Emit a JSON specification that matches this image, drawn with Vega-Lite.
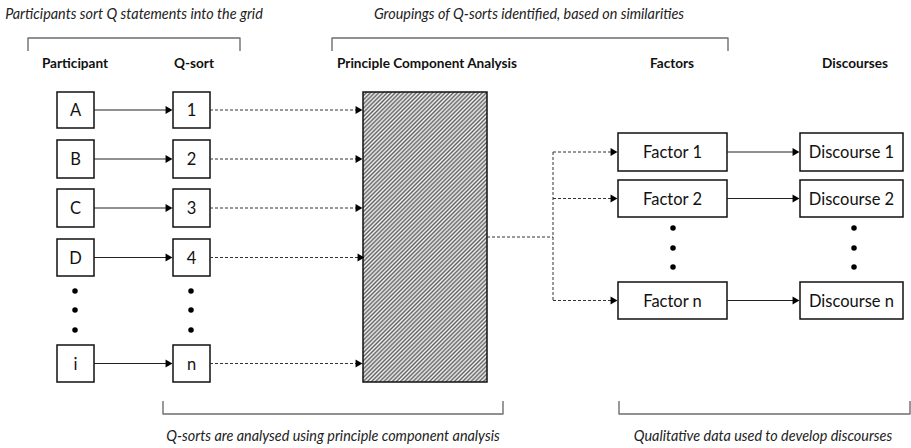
{
  "$schema": "https://vega.github.io/schema/vega-lite/v6.json",
  "width": 911,
  "height": 448,
  "padding": 0,
  "autosize": {"type": "fit", "contains": "padding"},
  "background": "white",
  "config": {"view": {"stroke": null}},
  "datasets": {
    "boxes": [
      {"label": "A", "x": 57, "x2": 94, "y": 92, "y2": 128},
      {"label": "B", "x": 57, "x2": 94, "y": 140, "y2": 178},
      {"label": "C", "x": 57, "x2": 94, "y": 189, "y2": 227},
      {"label": "D", "x": 57, "x2": 94, "y": 239, "y2": 276},
      {"label": "i", "x": 57, "x2": 94, "y": 345, "y2": 382},
      {"label": "1", "x": 173, "x2": 210, "y": 92, "y2": 128},
      {"label": "2", "x": 173, "x2": 210, "y": 140, "y2": 178},
      {"label": "3", "x": 173, "x2": 210, "y": 189, "y2": 227},
      {"label": "4", "x": 173, "x2": 210, "y": 239, "y2": 276},
      {"label": "n", "x": 173, "x2": 210, "y": 345, "y2": 382},
      {"label": "Factor 1", "x": 618, "x2": 727, "y": 133, "y2": 171},
      {"label": "Factor 2", "x": 618, "x2": 727, "y": 180, "y2": 217},
      {"label": "Factor n", "x": 618, "x2": 727, "y": 282, "y2": 319},
      {"label": "Discourse 1", "x": 800, "x2": 903, "y": 133, "y2": 171},
      {"label": "Discourse 2", "x": 800, "x2": 903, "y": 180, "y2": 217},
      {"label": "Discourse n", "x": 800, "x2": 903, "y": 282, "y2": 319}
    ],
    "pca": [{"x": 363, "x2": 487, "y": 92, "y2": 382}],
    "solid": [
      {"x": 94, "x2": 166, "y": 110},
      {"x": 94, "x2": 166, "y": 159},
      {"x": 94, "x2": 166, "y": 208},
      {"x": 94, "x2": 166, "y": 257.5},
      {"x": 94, "x2": 166, "y": 363.5},
      {"x": 727, "x2": 793, "y": 152},
      {"x": 727, "x2": 793, "y": 198.5},
      {"x": 727, "x2": 793, "y": 300.5}
    ],
    "dashed": [
      {"x": 210, "x2": 356, "y": 110, "y2": 110},
      {"x": 210, "x2": 356, "y": 159, "y2": 159},
      {"x": 210, "x2": 356, "y": 208, "y2": 208},
      {"x": 210, "x2": 358, "y": 257.5, "y2": 257.5},
      {"x": 210, "x2": 356, "y": 363.5, "y2": 363.5},
      {"x": 487, "x2": 553, "y": 237, "y2": 237},
      {"x": 553, "x2": 553, "y": 152, "y2": 300.5},
      {"x": 553, "x2": 611, "y": 152, "y2": 152},
      {"x": 553, "x2": 611, "y": 198.5, "y2": 198.5},
      {"x": 553, "x2": 611, "y": 300.5, "y2": 300.5}
    ],
    "heads": [
      {"x": 169, "y": 110}, {"x": 169, "y": 159}, {"x": 169, "y": 208},
      {"x": 169, "y": 257.5}, {"x": 169, "y": 363.5},
      {"x": 359, "y": 110}, {"x": 359, "y": 159}, {"x": 359, "y": 208},
      {"x": 361, "y": 257.5}, {"x": 359, "y": 363.5},
      {"x": 614, "y": 152}, {"x": 614, "y": 198.5}, {"x": 614, "y": 300.5},
      {"x": 796, "y": 152}, {"x": 796, "y": 198.5}, {"x": 796, "y": 300.5}
    ],
    "dots": [
      {"x": 75, "y": 291}, {"x": 75, "y": 310}, {"x": 75, "y": 330},
      {"x": 191, "y": 291}, {"x": 191, "y": 310}, {"x": 191, "y": 330},
      {"x": 673, "y": 228}, {"x": 673, "y": 248}, {"x": 673, "y": 267},
      {"x": 854, "y": 228}, {"x": 854, "y": 248}, {"x": 854, "y": 267}
    ],
    "brackets": [
      {"b": "t1", "o": 1, "x": 28, "y": 51}, {"b": "t1", "o": 2, "x": 28, "y": 38},
      {"b": "t1", "o": 3, "x": 240, "y": 38}, {"b": "t1", "o": 4, "x": 240, "y": 51},
      {"b": "t2", "o": 1, "x": 332, "y": 51}, {"b": "t2", "o": 2, "x": 332, "y": 38},
      {"b": "t2", "o": 3, "x": 728, "y": 38}, {"b": "t2", "o": 4, "x": 728, "y": 51},
      {"b": "b1", "o": 1, "x": 163, "y": 401}, {"b": "b1", "o": 2, "x": 163, "y": 414},
      {"b": "b1", "o": 3, "x": 503, "y": 414}, {"b": "b1", "o": 4, "x": 503, "y": 401},
      {"b": "b2", "o": 1, "x": 619, "y": 401}, {"b": "b2", "o": 2, "x": 619, "y": 414},
      {"b": "b2", "o": 3, "x": 910, "y": 414}, {"b": "b2", "o": 4, "x": 910, "y": 401}
    ],
    "headings": [
      {"label": "Participant", "x": 75, "y": 64},
      {"label": "Q-sort", "x": 194, "y": 64},
      {"label": "Principle Component Analysis", "x": 427, "y": 64},
      {"label": "Factors", "x": 672, "y": 64},
      {"label": "Discourses", "x": 855, "y": 64}
    ],
    "captions": [
      {"label": "Participants sort Q statements into the grid", "x": 134, "y": 15},
      {"label": "Groupings of Q-sorts identified, based on similarities", "x": 529, "y": 15},
      {"label": "Q-sorts are analysed using principle component analysis", "x": 333, "y": 437},
      {"label": "Qualitative data used to develop discourses", "x": 763, "y": 437}
    ]
  },
  "layer": [
    {
      "data": {"name": "brackets"},
      "mark": {"type": "line", "stroke": "#6e6e6e", "strokeWidth": 1.4, "strokeJoin": "round"},
      "encoding": {
        "x": {"field": "x", "type": "quantitative", "scale": {"domain": [0, 911], "nice": false, "zero": false}, "axis": null},
        "y": {"field": "y", "type": "quantitative", "scale": {"domain": [0, 448], "nice": false, "zero": false, "reverse": true}, "axis": null},
        "detail": {"field": "b"},
        "order": {"field": "o"}
      }
    },
    {
      "data": {"name": "pca"},
      "mark": {
        "type": "rect",
        "stroke": "#111",
        "strokeWidth": 1.5,
        "strokeOpacity": 1,
        "fillOpacity": 0.82,
        "fill": {
          "gradient": "linear",
          "x1": 0, "y1": 0, "x2": 0.516, "y2": 1.207,
          "stops": [
            {"offset": 0.000, "color": "#3c3c3c"}, {"offset": 0.005, "color": "#f4f4f4"},
            {"offset": 0.010, "color": "#3c3c3c"}, {"offset": 0.015, "color": "#f4f4f4"},
            {"offset": 0.020, "color": "#3c3c3c"}, {"offset": 0.025, "color": "#f4f4f4"},
            {"offset": 0.030, "color": "#3c3c3c"}, {"offset": 0.035, "color": "#f4f4f4"},
            {"offset": 0.040, "color": "#3c3c3c"}, {"offset": 0.045, "color": "#f4f4f4"},
            {"offset": 0.050, "color": "#3c3c3c"}, {"offset": 0.055, "color": "#f4f4f4"},
            {"offset": 0.060, "color": "#3c3c3c"}, {"offset": 0.065, "color": "#f4f4f4"},
            {"offset": 0.070, "color": "#3c3c3c"}, {"offset": 0.075, "color": "#f4f4f4"},
            {"offset": 0.080, "color": "#3c3c3c"}, {"offset": 0.085, "color": "#f4f4f4"},
            {"offset": 0.090, "color": "#3c3c3c"}, {"offset": 0.095, "color": "#f4f4f4"},
            {"offset": 0.100, "color": "#3c3c3c"}, {"offset": 0.105, "color": "#f4f4f4"},
            {"offset": 0.110, "color": "#3c3c3c"}, {"offset": 0.115, "color": "#f4f4f4"},
            {"offset": 0.120, "color": "#3c3c3c"}, {"offset": 0.125, "color": "#f4f4f4"},
            {"offset": 0.130, "color": "#3c3c3c"}, {"offset": 0.135, "color": "#f4f4f4"},
            {"offset": 0.140, "color": "#3c3c3c"}, {"offset": 0.145, "color": "#f4f4f4"},
            {"offset": 0.150, "color": "#3c3c3c"}, {"offset": 0.155, "color": "#f4f4f4"},
            {"offset": 0.160, "color": "#3c3c3c"}, {"offset": 0.165, "color": "#f4f4f4"},
            {"offset": 0.170, "color": "#3c3c3c"}, {"offset": 0.175, "color": "#f4f4f4"},
            {"offset": 0.180, "color": "#3c3c3c"}, {"offset": 0.185, "color": "#f4f4f4"},
            {"offset": 0.190, "color": "#3c3c3c"}, {"offset": 0.195, "color": "#f4f4f4"},
            {"offset": 0.200, "color": "#3c3c3c"}, {"offset": 0.205, "color": "#f4f4f4"},
            {"offset": 0.210, "color": "#3c3c3c"}, {"offset": 0.215, "color": "#f4f4f4"},
            {"offset": 0.220, "color": "#3c3c3c"}, {"offset": 0.225, "color": "#f4f4f4"},
            {"offset": 0.230, "color": "#3c3c3c"}, {"offset": 0.235, "color": "#f4f4f4"},
            {"offset": 0.240, "color": "#3c3c3c"}, {"offset": 0.245, "color": "#f4f4f4"},
            {"offset": 0.250, "color": "#3c3c3c"}, {"offset": 0.255, "color": "#f4f4f4"},
            {"offset": 0.260, "color": "#3c3c3c"}, {"offset": 0.265, "color": "#f4f4f4"},
            {"offset": 0.270, "color": "#3c3c3c"}, {"offset": 0.275, "color": "#f4f4f4"},
            {"offset": 0.280, "color": "#3c3c3c"}, {"offset": 0.285, "color": "#f4f4f4"},
            {"offset": 0.290, "color": "#3c3c3c"}, {"offset": 0.295, "color": "#f4f4f4"},
            {"offset": 0.300, "color": "#3c3c3c"}, {"offset": 0.305, "color": "#f4f4f4"},
            {"offset": 0.310, "color": "#3c3c3c"}, {"offset": 0.315, "color": "#f4f4f4"},
            {"offset": 0.320, "color": "#3c3c3c"}, {"offset": 0.325, "color": "#f4f4f4"},
            {"offset": 0.330, "color": "#3c3c3c"}, {"offset": 0.335, "color": "#f4f4f4"},
            {"offset": 0.340, "color": "#3c3c3c"}, {"offset": 0.345, "color": "#f4f4f4"},
            {"offset": 0.350, "color": "#3c3c3c"}, {"offset": 0.355, "color": "#f4f4f4"},
            {"offset": 0.360, "color": "#3c3c3c"}, {"offset": 0.365, "color": "#f4f4f4"},
            {"offset": 0.370, "color": "#3c3c3c"}, {"offset": 0.375, "color": "#f4f4f4"},
            {"offset": 0.380, "color": "#3c3c3c"}, {"offset": 0.385, "color": "#f4f4f4"},
            {"offset": 0.390, "color": "#3c3c3c"}, {"offset": 0.395, "color": "#f4f4f4"},
            {"offset": 0.400, "color": "#3c3c3c"}, {"offset": 0.405, "color": "#f4f4f4"},
            {"offset": 0.410, "color": "#3c3c3c"}, {"offset": 0.415, "color": "#f4f4f4"},
            {"offset": 0.420, "color": "#3c3c3c"}, {"offset": 0.425, "color": "#f4f4f4"},
            {"offset": 0.430, "color": "#3c3c3c"}, {"offset": 0.435, "color": "#f4f4f4"},
            {"offset": 0.440, "color": "#3c3c3c"}, {"offset": 0.445, "color": "#f4f4f4"},
            {"offset": 0.450, "color": "#3c3c3c"}, {"offset": 0.455, "color": "#f4f4f4"},
            {"offset": 0.460, "color": "#3c3c3c"}, {"offset": 0.465, "color": "#f4f4f4"},
            {"offset": 0.470, "color": "#3c3c3c"}, {"offset": 0.475, "color": "#f4f4f4"},
            {"offset": 0.480, "color": "#3c3c3c"}, {"offset": 0.485, "color": "#f4f4f4"},
            {"offset": 0.490, "color": "#3c3c3c"}, {"offset": 0.495, "color": "#f4f4f4"},
            {"offset": 0.500, "color": "#3c3c3c"}, {"offset": 0.505, "color": "#f4f4f4"},
            {"offset": 0.510, "color": "#3c3c3c"}, {"offset": 0.515, "color": "#f4f4f4"},
            {"offset": 0.520, "color": "#3c3c3c"}, {"offset": 0.525, "color": "#f4f4f4"},
            {"offset": 0.530, "color": "#3c3c3c"}, {"offset": 0.535, "color": "#f4f4f4"},
            {"offset": 0.540, "color": "#3c3c3c"}, {"offset": 0.545, "color": "#f4f4f4"},
            {"offset": 0.550, "color": "#3c3c3c"}, {"offset": 0.555, "color": "#f4f4f4"},
            {"offset": 0.560, "color": "#3c3c3c"}, {"offset": 0.565, "color": "#f4f4f4"},
            {"offset": 0.570, "color": "#3c3c3c"}, {"offset": 0.575, "color": "#f4f4f4"},
            {"offset": 0.580, "color": "#3c3c3c"}, {"offset": 0.585, "color": "#f4f4f4"},
            {"offset": 0.590, "color": "#3c3c3c"}, {"offset": 0.595, "color": "#f4f4f4"},
            {"offset": 0.600, "color": "#3c3c3c"}, {"offset": 0.605, "color": "#f4f4f4"},
            {"offset": 0.610, "color": "#3c3c3c"}, {"offset": 0.615, "color": "#f4f4f4"},
            {"offset": 0.620, "color": "#3c3c3c"}, {"offset": 0.625, "color": "#f4f4f4"},
            {"offset": 0.630, "color": "#3c3c3c"}, {"offset": 0.635, "color": "#f4f4f4"},
            {"offset": 0.640, "color": "#3c3c3c"}, {"offset": 0.645, "color": "#f4f4f4"},
            {"offset": 0.650, "color": "#3c3c3c"}, {"offset": 0.655, "color": "#f4f4f4"},
            {"offset": 0.660, "color": "#3c3c3c"}, {"offset": 0.665, "color": "#f4f4f4"},
            {"offset": 0.670, "color": "#3c3c3c"}, {"offset": 0.675, "color": "#f4f4f4"},
            {"offset": 0.680, "color": "#3c3c3c"}, {"offset": 0.685, "color": "#f4f4f4"},
            {"offset": 0.690, "color": "#3c3c3c"}, {"offset": 0.695, "color": "#f4f4f4"},
            {"offset": 0.700, "color": "#3c3c3c"}, {"offset": 0.705, "color": "#f4f4f4"},
            {"offset": 0.710, "color": "#3c3c3c"}, {"offset": 0.715, "color": "#f4f4f4"},
            {"offset": 0.720, "color": "#3c3c3c"}, {"offset": 0.725, "color": "#f4f4f4"},
            {"offset": 0.730, "color": "#3c3c3c"}, {"offset": 0.735, "color": "#f4f4f4"},
            {"offset": 0.740, "color": "#3c3c3c"}, {"offset": 0.745, "color": "#f4f4f4"},
            {"offset": 0.750, "color": "#3c3c3c"}, {"offset": 0.755, "color": "#f4f4f4"},
            {"offset": 0.760, "color": "#3c3c3c"}, {"offset": 0.765, "color": "#f4f4f4"},
            {"offset": 0.770, "color": "#3c3c3c"}, {"offset": 0.775, "color": "#f4f4f4"},
            {"offset": 0.780, "color": "#3c3c3c"}, {"offset": 0.785, "color": "#f4f4f4"},
            {"offset": 0.790, "color": "#3c3c3c"}, {"offset": 0.795, "color": "#f4f4f4"},
            {"offset": 0.800, "color": "#3c3c3c"}, {"offset": 0.805, "color": "#f4f4f4"},
            {"offset": 0.810, "color": "#3c3c3c"}, {"offset": 0.815, "color": "#f4f4f4"},
            {"offset": 0.820, "color": "#3c3c3c"}, {"offset": 0.825, "color": "#f4f4f4"},
            {"offset": 0.830, "color": "#3c3c3c"}, {"offset": 0.835, "color": "#f4f4f4"},
            {"offset": 0.840, "color": "#3c3c3c"}, {"offset": 0.845, "color": "#f4f4f4"},
            {"offset": 0.850, "color": "#3c3c3c"}, {"offset": 0.855, "color": "#f4f4f4"},
            {"offset": 0.860, "color": "#3c3c3c"}, {"offset": 0.865, "color": "#f4f4f4"},
            {"offset": 0.870, "color": "#3c3c3c"}, {"offset": 0.875, "color": "#f4f4f4"},
            {"offset": 0.880, "color": "#3c3c3c"}, {"offset": 0.885, "color": "#f4f4f4"},
            {"offset": 0.890, "color": "#3c3c3c"}, {"offset": 0.895, "color": "#f4f4f4"},
            {"offset": 0.900, "color": "#3c3c3c"}, {"offset": 0.905, "color": "#f4f4f4"},
            {"offset": 0.910, "color": "#3c3c3c"}, {"offset": 0.915, "color": "#f4f4f4"},
            {"offset": 0.920, "color": "#3c3c3c"}, {"offset": 0.925, "color": "#f4f4f4"},
            {"offset": 0.930, "color": "#3c3c3c"}, {"offset": 0.935, "color": "#f4f4f4"},
            {"offset": 0.940, "color": "#3c3c3c"}, {"offset": 0.945, "color": "#f4f4f4"},
            {"offset": 0.950, "color": "#3c3c3c"}, {"offset": 0.955, "color": "#f4f4f4"},
            {"offset": 0.960, "color": "#3c3c3c"}, {"offset": 0.965, "color": "#f4f4f4"},
            {"offset": 0.970, "color": "#3c3c3c"}, {"offset": 0.975, "color": "#f4f4f4"},
            {"offset": 0.980, "color": "#3c3c3c"}, {"offset": 0.985, "color": "#f4f4f4"},
            {"offset": 0.990, "color": "#3c3c3c"}, {"offset": 0.995, "color": "#f4f4f4"},
            {"offset": 1.000, "color": "#3c3c3c"}
          ]
        }
      },
      "encoding": {
        "x": {"field": "x", "type": "quantitative"},
        "x2": {"field": "x2"},
        "y": {"field": "y", "type": "quantitative"},
        "y2": {"field": "y2"}
      }
    },
    {
      "data": {"name": "boxes"},
      "mark": {"type": "rect", "fill": "white", "stroke": "#111", "strokeWidth": 1.5},
      "encoding": {
        "x": {"field": "x", "type": "quantitative"},
        "x2": {"field": "x2"},
        "y": {"field": "y", "type": "quantitative"},
        "y2": {"field": "y2"}
      }
    },
    {
      "data": {"name": "solid"},
      "mark": {"type": "rule", "stroke": "#222", "strokeWidth": 1},
      "encoding": {
        "x": {"field": "x", "type": "quantitative"},
        "x2": {"field": "x2"},
        "y": {"field": "y", "type": "quantitative"}
      }
    },
    {
      "data": {"name": "dashed"},
      "mark": {"type": "rule", "stroke": "#333", "strokeWidth": 1, "strokeDash": [3, 2]},
      "encoding": {
        "x": {"field": "x", "type": "quantitative"},
        "x2": {"field": "x2"},
        "y": {"field": "y", "type": "quantitative"},
        "y2": {"field": "y2"}
      }
    },
    {
      "data": {"name": "heads"},
      "mark": {"type": "point", "shape": "triangle-right", "size": 64, "filled": true, "fill": "black", "stroke": null, "opacity": 1},
      "encoding": {
        "x": {"field": "x", "type": "quantitative"},
        "y": {"field": "y", "type": "quantitative"}
      }
    },
    {
      "data": {"name": "dots"},
      "mark": {"type": "circle", "size": 30, "fill": "black", "opacity": 1},
      "encoding": {
        "x": {"field": "x", "type": "quantitative"},
        "y": {"field": "y", "type": "quantitative"}
      }
    },
    {
      "data": {"name": "boxes"},
      "transform": [{"calculate": "(datum.x + datum.x2) / 2", "as": "cx"}, {"calculate": "(datum.y + datum.y2) / 2", "as": "cy"}],
      "mark": {"type": "text", "font": "Lato", "fontSize": 16.5, "color": "#111", "align": "center", "baseline": "middle", "dy": 1},
      "encoding": {
        "x": {"field": "cx", "type": "quantitative"},
        "y": {"field": "cy", "type": "quantitative"},
        "text": {"field": "label"}
      }
    },
    {
      "data": {"name": "headings"},
      "mark": {"type": "text", "font": "Lato", "fontSize": 13.6, "fontWeight": "bold", "color": "#111", "align": "center", "baseline": "middle"},
      "encoding": {
        "x": {"field": "x", "type": "quantitative"},
        "y": {"field": "y", "type": "quantitative"},
        "text": {"field": "label"}
      }
    },
    {
      "data": {"name": "captions"},
      "mark": {"type": "text", "font": "Lato", "fontSize": 14.4, "fontStyle": "italic", "color": "#222", "align": "center", "baseline": "middle"},
      "encoding": {
        "x": {"field": "x", "type": "quantitative"},
        "y": {"field": "y", "type": "quantitative"},
        "text": {"field": "label"}
      }
    }
  ]
}
